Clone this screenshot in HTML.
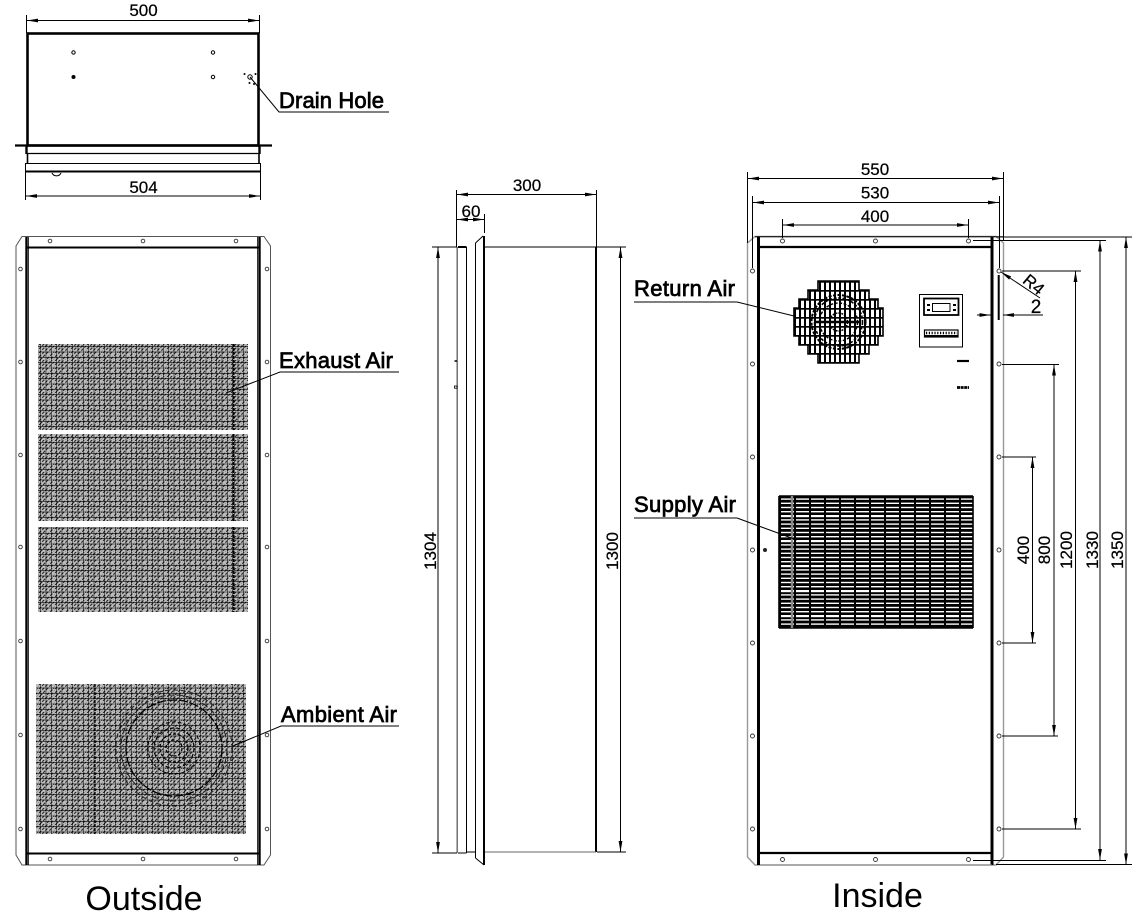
<!DOCTYPE html>
<html><head><meta charset="utf-8"><style>
html,body{margin:0;padding:0;background:#fff}
svg{display:block}
text{font-family:"Liberation Sans",Arial,sans-serif;fill:#000}
.d{font-size:17px;text-anchor:middle;stroke:#000;stroke-width:.22}
.l{font-size:22px;stroke:#000;stroke-width:.75}
.b{font-size:34px;text-anchor:middle}
</style></head><body>
<svg width="1148" height="917" viewBox="0 0 1148 917" xmlns="http://www.w3.org/2000/svg">
<defs>
<marker id="a" markerUnits="userSpaceOnUse" markerWidth="12" markerHeight="6" refX="11" refY="3" orient="auto-start-reverse"><path d="M0,1.1L11,3L0,4.9z" fill="#000"/></marker>
<pattern id="m" patternUnits="userSpaceOnUse" width="16" height="16" x="38" y="344">
<rect width="16" height="16" fill="#bcbcbc"/>
<path d="M-2,4L4,-2M-2,8L8,-2M-2,12L12,-2M-2,16L16,-2M2,16L16,2M6,18L18,6M10,18L18,10M14,18L18,14" stroke="#222" stroke-width="1.1" stroke-dasharray="3 1.4"/>
<path d="M0,2.7H16M0,8H16M0,13.3H16" stroke="#000" stroke-width=".6"/>
<path d="M2.7,0V16M8,0V16M13.3,0V16" stroke="#000" stroke-width=".5"/>
</pattern>
<pattern id="f" patternUnits="userSpaceOnUse" width="5" height="9" x="794" y="281">
<rect width="5" height="9" fill="#fff"/>
<rect x="0" y="0" width="2" height="9" fill="#000"/><rect x="0" y="0" width="5" height="1.7" fill="#000"/>
</pattern>
<pattern id="g" patternUnits="userSpaceOnUse" width="15" height="25" x="779" y="490">
<rect width="15" height="25" fill="#000"/>
<rect x="2" y="0" width="13" height="2.2" fill="#fff"/>
<rect x="2" y="4.2" width="13" height="1.4" fill="#fff"/>
<rect x="2" y="8.4" width="13" height="1.4" fill="#fff"/>
<rect x="2" y="12.6" width="13" height="1.4" fill="#fff"/>
<rect x="2" y="16.8" width="13" height="1.4" fill="#fff"/>
<rect x="2" y="21" width="13" height="1.4" fill="#fff"/>
</pattern>
</defs>

<!-- Top view -->
<g fill="none" stroke="#000">
<rect x="27.5" y="33.5" width="231" height="112" stroke-width="2.6"/>
<path d="M15,145.5H272" stroke-width="2.2"/>
<path d="M26.5,145V154M259.5,145V154" stroke-width="2.4"/>
<path d="M27,153.5H259" stroke-width="1.2"/>
<path d="M27.5,153V163M259,153V163" stroke-width="1.6"/>
<path d="M25.5,163.5H260.5V171.5H25.5Z" stroke-width="1"/>
<path d="M25.5,171.5H260.5" stroke-width="2"/>
<path d="M52,173A5,5 0 0 0 61,173" stroke-width="1"/>
<path d="M26.5,15V33M259.5,15V33M25.5,172V200M260.5,172V200" stroke-width="1"/>
<path d="M27,20.5H259" stroke-width="1" marker-start="url(#a)" marker-end="url(#a)"/>
<path d="M26,196H260" stroke-width="1" marker-start="url(#a)" marker-end="url(#a)"/>
<path d="M250,77L279,112H389" stroke-width="1"/>
<g stroke-width="1">
<circle cx="73.5" cy="52.5" r="1.7"/><circle cx="213" cy="52.5" r="1.7"/><circle cx="213" cy="77" r="1.7"/><circle cx="250" cy="77" r="2.2"/>
</g>
<circle cx="73.5" cy="77" r="2" fill="#000" stroke="none"/>
<g fill="#000" stroke="none"><circle cx="244.5" cy="74" r="1"/><circle cx="255.5" cy="74" r="1"/><circle cx="249.5" cy="83" r="1"/><circle cx="254" cy="84" r="1"/></g>
</g>
<text class="d" x="143.5" y="16">500</text>
<text class="d" x="143.5" y="193">504</text>
<text class="l" x="279" y="108" textLength="105">Drain Hole</text>

<!-- Outside view -->
<g fill="none" stroke="#000">
<path d="M22,236.5H264L270.5,246V855L264,865H22L16,855V246Z" stroke-width="1" stroke="#555"/>
<path d="M26.5,237V865M259.5,237V865" stroke-width="2.4"/>
<path d="M26,247.5H260M26,853.5H260" stroke-width="2"/>
<path d="M28.5,237V865M257.5,237V865" stroke-width=".8"/>
</g>
<g fill="#fff" stroke="#333" stroke-width=".9">
<circle cx="50" cy="241" r="1.8"/><circle cx="143" cy="241" r="1.8"/><circle cx="236" cy="241" r="1.8"/>
<circle cx="50" cy="859" r="1.8"/><circle cx="143" cy="859" r="1.8"/><circle cx="236" cy="859" r="1.8"/>
<circle cx="20.5" cy="269" r="1.8"/><circle cx="20.5" cy="362" r="1.8"/><circle cx="20.5" cy="455" r="1.8"/><circle cx="20.5" cy="547" r="1.8"/><circle cx="20.5" cy="641" r="1.8"/><circle cx="20.5" cy="735" r="1.8"/><circle cx="20.5" cy="829" r="1.8"/>
<circle cx="267" cy="269" r="1.8"/><circle cx="267" cy="362" r="1.8"/><circle cx="267" cy="455" r="1.8"/><circle cx="267" cy="547" r="1.8"/><circle cx="267" cy="641" r="1.8"/><circle cx="267" cy="735" r="1.8"/><circle cx="267" cy="829" r="1.8"/>
</g>
<rect x="38" y="344" width="210" height="86" fill="url(#m)"/>
<rect x="38" y="434" width="210" height="87" fill="url(#m)"/>
<rect x="38" y="527" width="210" height="85" fill="url(#m)"/>
<rect x="36" y="684" width="210" height="150" fill="url(#m)"/>
<g fill="none" stroke="#000">
<path d="M233.5,344V430M233.5,434V521M233.5,527V612" stroke-width="2" stroke-dasharray="3 1"/>
<path d="M95,684V834" stroke-width="1.2" stroke-dasharray="3 1"/>
<circle cx="174" cy="748" r="58" stroke-width="1" stroke-dasharray="5 3" stroke="#222"/>
<circle cx="174" cy="748" r="53" stroke-width="1" stroke-dasharray="7 2" stroke="#222"/>
<circle cx="174" cy="748" r="48" stroke-width="1.3" stroke-dasharray="9 2"/>
<circle cx="174" cy="748" r="26" stroke-width="1" stroke-dasharray="4 2"/>
<circle cx="174" cy="748" r="20" stroke-width="1.2" stroke-dasharray="4 2"/>
<circle cx="174" cy="748" r="14" stroke-width="1.3" stroke-dasharray="3 2"/>
<circle cx="174" cy="748" r="8" stroke-width="1.3" stroke-dasharray="3 2"/>
<path d="M226,393L280,372H399" stroke-width="1"/>
<path d="M233,746L281,726H399" stroke-width="1"/>
</g>
<text class="l" x="279" y="368" textLength="114">Exhaust Air</text>
<text class="l" x="281" y="722" textLength="116">Ambient Air</text>
<text class="b" x="144" y="910">Outside</text>

<!-- Side view -->
<g fill="none" stroke="#000">
<path d="M457.2,247V853" stroke="#666" stroke-width="1.4"/>
<path d="M466.5,247V853" stroke-width="1"/>
<path d="M475.5,243V858" stroke-width="1"/>
<path d="M484,236V865" stroke-width="2"/>
<path d="M596,247V852" stroke-width="2"/>
<path d="M475.5,243L483,236M475.5,858L484,865" stroke-width="1"/>
<path d="M458,247H466.5" stroke-width="2"/>
<path d="M458,853H466.5M466,852H475M485,247H596" stroke-width="1"/>
<path d="M485,852H596" stroke-width="1" stroke="#666"/>
<path d="M432,247H457M432,853H457M597,247H626M597,852H626" stroke-width="1"/>
<path d="M456.5,190V247M596.5,190V247M484.5,214V233" stroke-width="1"/>
<path d="M457,194.5H596" stroke-width="1" marker-start="url(#a)" marker-end="url(#a)"/>
<path d="M457,219.5H484" stroke-width="1" marker-start="url(#a)" marker-end="url(#a)"/>
<path d="M438,247V853" stroke-width="1" marker-start="url(#a)" marker-end="url(#a)"/>
<path d="M620.5,247V852" stroke-width="1" marker-start="url(#a)" marker-end="url(#a)"/>
<path d="M454.5,361H457" stroke-width="1.5"/>
<rect x="454.5" y="386" width="2.5" height="2.2" stroke-width=".8"/>
</g>
<text class="d" x="527" y="191">300</text>
<text class="d" x="471" y="217">60</text>
<text class="d" transform="translate(436,551) rotate(-90)">1304</text>
<text class="d" transform="translate(618,551) rotate(-90)">1300</text>

<!-- Inside view -->
<g fill="none" stroke="#000">
<path d="M755,236.5H996L1003.5,243V857L996,865H755L747.5,857V243Z" stroke="#999" stroke-width="1.4"/>
<path d="M755,236.8H1003" stroke-width="1" />
<path d="M758.5,237V865M992,237V865" stroke-width="3"/>
<path d="M758,247H992M758,853H992" stroke-width="2.2"/>
<path d="M760,865H992" stroke="#888" stroke-width="1"/>
</g>
<g fill="#fff" stroke="#333" stroke-width=".9">
<circle cx="782.5" cy="241" r="2"/><circle cx="875.5" cy="241" r="2"/><circle cx="968.5" cy="241" r="2"/>
<circle cx="782.5" cy="859.5" r="2"/><circle cx="875.5" cy="859.5" r="2"/><circle cx="968.5" cy="859.5" r="2"/>
<circle cx="752.5" cy="271" r="2"/><circle cx="752.5" cy="364" r="2"/><circle cx="752.5" cy="457" r="2"/><circle cx="752.5" cy="550" r="2"/><circle cx="752.5" cy="643" r="2"/><circle cx="752.5" cy="736" r="2"/><circle cx="752.5" cy="829" r="2"/>
<circle cx="999" cy="271" r="2"/><circle cx="999" cy="364" r="2"/><circle cx="999" cy="457" r="2"/><circle cx="999" cy="550" r="2"/><circle cx="999" cy="643" r="2"/><circle cx="999" cy="736" r="2"/><circle cx="999" cy="829" r="2"/>
</g>
<circle cx="765" cy="550" r="2" fill="#222"/>

<!-- return fan -->
<path d="M818,281H859V290H869V299H878V308H883V336H878V345H869V354H859V363H818V354H808V345H799V336H794V308H799V299H808V290H818Z" fill="url(#f)" stroke="#000" stroke-width="1.6"/>
<g fill="none" stroke="#000">
<circle cx="838.5" cy="322" r="27" stroke-width="2" stroke-dasharray="3 1.5"/>
<circle cx="838.5" cy="322" r="24" stroke-width="1.6" stroke-dasharray="3 1.5"/>
<circle cx="838.5" cy="322" r="19" stroke-width="1.4" stroke-dasharray="3 1.5"/>
<circle cx="838.5" cy="322" r="9" stroke-width="1.5" stroke-dasharray="2 1"/>
<path d="M816,322H860" stroke-width="2.4"/>
<path d="M737,302H634M737,302L794,316" stroke-width="1"/>
</g>

<!-- controller -->
<g fill="none" stroke="#000">
<rect x="919.5" y="294.5" width="43" height="52.5" stroke-width="1"/>
<rect x="924" y="298.5" width="34.5" height="16.5" stroke-width="1.8"/>
<rect x="932.5" y="303.5" width="17.5" height="8" stroke-width="1"/>
<path d="M927,305H930M927,310H930M953,305H956M953,310H956" stroke-width="2"/>
<rect x="924.5" y="330" width="33.5" height="7" stroke-width="1.2"/>
<path d="M924,336H958" stroke-width="2"/>
<path d="M926,333H957" stroke-width="2.5" stroke-dasharray="1.2 1.6"/>
<path d="M957,361H969" stroke-width="2.2"/>
<path d="M957,387.5H969" stroke-width="2.8" stroke-dasharray="3 .6"/>
</g>

<!-- supply -->
<rect x="779" y="496" width="194.5" height="132" fill="url(#g)"/>
<path d="M779,496V628M973,496V628" stroke="#000" stroke-width="1.6"/>
<path d="M779,496H973M779,628H973" stroke="#000" stroke-width="1.6"/>
<path d="M792,496V628" stroke="#888" stroke-width="2.4"/>
<path d="M737,518H634M737,518L797,540" stroke="#000" stroke-width="1" fill="none"/>

<text class="l" x="634" y="296" textLength="101">Return Air</text>
<text class="l" x="634" y="512" textLength="102">Supply Air</text>
<text class="b" x="877.5" y="907">Inside</text>

<!-- inside dims -->
<g fill="none" stroke="#000" stroke-width="1">
<path d="M747.5,172V243M1003.5,172V240M752.5,196V268M999.5,196V268M782.5,219V238M968.5,219V238"/>
<path d="M748,178.5H1003" marker-start="url(#a)" marker-end="url(#a)"/>
<path d="M753,202.5H999" marker-start="url(#a)" marker-end="url(#a)"/>
<path d="M783,225H968" marker-start="url(#a)" marker-end="url(#a)"/>
<path d="M973,240.5H1106M996,237H1132M973,860.5H1106M996,864.5H1132"/>
<path d="M1002,271H1081M1002,364.5H1059M1002,457H1036M1002,643H1036M1002,736H1058M1002,829H1081"/>
<path d="M1100,240.5V860" marker-start="url(#a)" marker-end="url(#a)"/>
<path d="M1126,237V864.5" marker-start="url(#a)" marker-end="url(#a)"/>
<path d="M1075.5,271V829" marker-start="url(#a)" marker-end="url(#a)"/>
<path d="M1054,364.5V736" marker-start="url(#a)" marker-end="url(#a)"/>
<path d="M1032.5,457V643" marker-start="url(#a)" marker-end="url(#a)"/>
<path d="M1040,298L1001,272" marker-end="url(#a)"/>
<path d="M977,315H990.5" marker-end="url(#a)"/>
<path d="M1043,315H1003" marker-end="url(#a)"/>
<path d="M998.7,275V320" stroke-width="2"/>
</g>
<text class="d" x="875" y="175">550</text>
<text class="d" x="875" y="198.5">530</text>
<text class="d" x="875" y="222">400</text>
<text class="d" transform="translate(1029,550) rotate(-90)">400</text>
<text class="d" transform="translate(1050,550) rotate(-90)">800</text>
<text class="d" transform="translate(1072,550) rotate(-90)">1200</text>
<text class="d" transform="translate(1098,550) rotate(-90)">1330</text>
<text class="d" transform="translate(1123,550) rotate(-90)">1350</text>
<text class="d" transform="translate(1030,289) rotate(40)">R4</text>
<text class="d" style="font-size:19px" x="1036" y="313">2</text>
</svg>
</body></html>
